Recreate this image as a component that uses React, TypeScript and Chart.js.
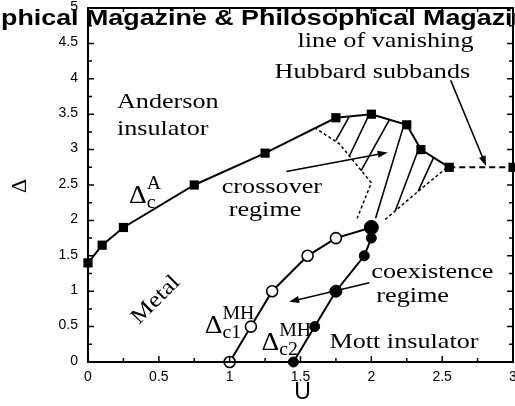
import React, { useEffect, useRef } from "react";
import { Chart, registerables } from "chart.js";

Chart.register(...registerables);

// ---------- axis ticks ----------
const xTickValues = [0, 0.5, 1, 1.5, 2, 2.5, 3];
const xTickLabels = ["0", "0.5", "1", "1.5", "2", "2.5", "3"];
const xMinorTicks = [0.25, 0.75, 1.25, 1.75, 2.25, 2.75];
const yTickValues = [0, 0.5, 1, 1.5, 2, 2.5, 3, 3.5, 4, 4.5, 5];
const yTickLabels = ["0", "0.5", "1", "1.5", "2", "2.5", "3", "3.5", "4", "4.5", "5"];
const yMinorTicks = [0.25, 0.75, 1.25, 1.75, 2.25, 2.75, 3.25, 3.75, 4.25, 4.75];

// ---------- series ----------
// Anderson transition line (filled squares)
const andersonU = [0, 0.1, 0.25, 0.75, 1.25, 1.75, 2.0, 2.25, 2.35, 2.55];
const andersonD = [1.4, 1.65, 1.9, 2.5, 2.95, 3.45, 3.5, 3.35, 3.0, 2.75];
// line of vanishing Hubbard subbands (dashed)
const hubbardU = [2.55, 3.0];
const hubbardD = [2.75, 2.75];
// Delta_c1^MH (open circles)
const mh1U = [1.0, 1.15, 1.3, 1.55, 1.75, 2.0];
const mh1D = [0, 0.5, 1.0, 1.5, 1.75, 1.9];
// Delta_c2^MH (filled circles)
const mh2U = [1.45, 1.6, 1.75, 1.95, 2.0, 2.0];
const mh2D = [0, 0.5, 1.0, 1.5, 1.75, 1.9];
// crossover region boundaries (dotted)
const crossLeftU = [1.6, 1.775, 2.0, 1.9];
const crossLeftD = [3.31, 3.08, 2.53, 2.03];
const crossRightU = [2.53, 2.33, 2.09];
const crossRightD = [2.74, 2.41, 2.0];
// hatch lines (start -> end)
const hatchStartU = [1.75, 1.845, 1.927, 2.03, 2.17, 2.33];
const hatchStartD = [3.13, 2.91, 2.7, 2.03, 2.14, 2.41];
const hatchEndU = [1.845, 1.986, 2.127, 2.232, 2.338, 2.44];
const hatchEndD = [3.47, 3.5, 3.42, 3.36, 3.03, 2.89];
// arrows (from -> to)
const arrowFromU = [2.56, 1.4, 1.986];
const arrowFromD = [3.98, 2.69, 1.12];
const arrowToU = [2.81, 2.115, 1.42];
const arrowToD = [2.77, 2.96, 0.85];

// ---------- annotation texts ----------
const labelTexts = [
  "line of vanishing",
  "Hubbard subbands",
  "Anderson",
  "insulator",
  "crossover",
  "regime",
  "coexistence",
  "regime",
  "Mott insulator",
];
const labelU = [1.479, 1.317, 0.204, 0.204, 0.944, 0.993, 2.0, 2.035, 1.704];
const labelD = [4.449, 4.011, 3.588, 3.206, 2.387, 2.062, 1.186, 0.847, 0.198];
const metalText = "Metal";
const metalU = 0.479;
const metalD = 0.876;
const deltaSubs = ["c", "c1", "c2"];
const deltaSups = ["A", "MH", "MH"];
const deltaU = [0.289, 0.824, 1.225];
const deltaD = [2.246, 0.41, 0.17];

const titleText = "Philosophical Magazine & Philosophical Magazine Letters";
const titleHidden = "Philoso";
const xAxisTitle = "U";
const yAxisTitle = "\u0394";

const SERIF = "'Liberation Serif', 'Times New Roman', serif";
const SANS = "'Liberation Sans', Arial, sans-serif";

function pts(us: number[], ds: number[]) {
  return us.map((u, i) => ({ x: u, y: ds[i] }));
}

function drawText(
  ctx: CanvasRenderingContext2D,
  text: string,
  x: number,
  y: number,
  font: string,
  align: CanvasTextAlign,
  baseline: CanvasTextBaseline,
  sx = 1,
  rot = 0
) {
  ctx.save();
  ctx.translate(x, y);
  if (rot) ctx.rotate(rot);
  ctx.scale(sx, 1);
  ctx.font = font;
  ctx.textAlign = align;
  ctx.textBaseline = baseline;
  ctx.fillStyle = "#000";
  ctx.fillText(text, 0, 0);
  ctx.restore();
}

const decorPlugin = {
  id: "decor",
  afterDatasetsDraw(chart: any) {
    const ctx: CanvasRenderingContext2D = chart.ctx;
    const a = chart.chartArea;
    const xs = chart.scales.x;
    const ys = chart.scales.y;
    ctx.save();
    // frame
    ctx.strokeStyle = "#000";
    ctx.lineWidth = 2;
    ctx.strokeRect(a.left, a.top, a.right - a.left, a.bottom - a.top);
    // inward ticks
    ctx.lineWidth = 1.5;
    const tick = (vals: number[], len: number) => {
      vals.forEach((v) => {
        const px = xs.getPixelForValue(v);
        ctx.beginPath();
        ctx.moveTo(px, a.bottom);
        ctx.lineTo(px, a.bottom - len);
        ctx.moveTo(px, a.top);
        ctx.lineTo(px, a.top + len);
        ctx.stroke();
      });
    };
    const ytick = (vals: number[], len: number) => {
      vals.forEach((v) => {
        const py = ys.getPixelForValue(v);
        ctx.beginPath();
        ctx.moveTo(a.left, py);
        ctx.lineTo(a.left + len, py);
        ctx.moveTo(a.right, py);
        ctx.lineTo(a.right - len, py);
        ctx.stroke();
      });
    };
    tick(xTickValues, 6);
    tick(xMinorTicks, 4);
    ytick(yTickValues, 6);
    ytick(yMinorTicks, 4);

    // tick labels
    xTickValues.forEach((v, i) => {
      drawText(ctx, xTickLabels[i], xs.getPixelForValue(v), a.bottom + 15, `14px ${SANS}`, "center", "middle");
    });
    yTickValues.forEach((v, i) => {
      drawText(ctx, yTickLabels[i], a.left - 10, ys.getPixelForValue(v) - 1, `14px ${SANS}`, "right", "middle");
    });

    // arrows
    ctx.lineWidth = 1.6;
    ctx.fillStyle = "#000";
    arrowFromU.forEach((u, i) => {
      const x0 = xs.getPixelForValue(u);
      const y0 = ys.getPixelForValue(arrowFromD[i]);
      const x1 = xs.getPixelForValue(arrowToU[i]);
      const y1 = ys.getPixelForValue(arrowToD[i]);
      const ang = Math.atan2(y1 - y0, x1 - x0);
      const hl = 10;
      const hw = 3.5;
      ctx.beginPath();
      ctx.moveTo(x0, y0);
      ctx.lineTo(x1 - Math.cos(ang) * hl * 0.8, y1 - Math.sin(ang) * hl * 0.8);
      ctx.stroke();
      ctx.beginPath();
      ctx.moveTo(x1, y1);
      ctx.lineTo(x1 - Math.cos(ang) * hl + Math.sin(ang) * hw, y1 - Math.sin(ang) * hl - Math.cos(ang) * hw);
      ctx.lineTo(x1 - Math.cos(ang) * hl - Math.sin(ang) * hw, y1 - Math.sin(ang) * hl + Math.cos(ang) * hw);
      ctx.closePath();
      ctx.fill();
    });

    // annotations
    labelTexts.forEach((t, i) => {
      drawText(ctx, t, xs.getPixelForValue(labelU[i]), ys.getPixelForValue(labelD[i]), `22px ${SERIF}`, "left", "alphabetic", 1.19);
    });
    drawText(ctx, metalText, xs.getPixelForValue(metalU), ys.getPixelForValue(metalD), `22px ${SERIF}`, "center", "middle", 1.15, -Math.PI / 4);

    deltaSubs.forEach((sub, i) => {
      const x = xs.getPixelForValue(deltaU[i]);
      const y = ys.getPixelForValue(deltaD[i]);
      ctx.font = `25px ${SERIF}`;
      const w = ctx.measureText("\u0394").width * 1.1;
      drawText(ctx, "\u0394", x, y, `25px ${SERIF}`, "left", "alphabetic", 1.1);
      drawText(ctx, deltaSups[i], x + w, y - 14, `18px ${SERIF}`, "left", "alphabetic", 1.1);
      drawText(ctx, sub, x + w, y + 5, `18px ${SERIF}`, "left", "alphabetic", 1.1);
    });

    // axis titles
    drawText(ctx, xAxisTitle, (a.left + a.right) / 2 + 2, a.bottom + 37, `23px ${SANS}`, "center", "alphabetic");
    drawText(ctx, yAxisTitle, 20, (a.top + a.bottom) / 2 + 1, `22px ${SERIF}`, "center", "middle", 1, -Math.PI / 2);
    ctx.restore();
  },
  afterDraw(chart: any) {
    const ctx: CanvasRenderingContext2D = chart.ctx;
    ctx.save();
    const font = `bold 22px ${SANS}`;
    const sx = 1.22;
    ctx.font = font;
    const hidden = ctx.measureText(titleHidden).width * sx;
    drawText(ctx, titleText, 1 - hidden, 25, font, "left", "alphabetic", sx);
    ctx.restore();
  },
};

export default function App() {
  const ref = useRef<HTMLCanvasElement | null>(null);

  useEffect(() => {
    document.body.style.margin = "0";
    const canvas = ref.current;
    if (!canvas) return;

    const line = (data: any[], extra: any) => ({
      data,
      showLine: true,
      borderColor: "#000",
      borderWidth: 2,
      pointRadius: 0,
      clip: false,
      ...extra,
    });

    const hatchSets = hatchStartU.map((u, i) =>
      line(
        [
          { x: u, y: hatchStartD[i] },
          { x: hatchEndU[i], y: hatchEndD[i] },
        ],
        { borderWidth: 1.6 }
      )
    );

    const chart = new Chart(canvas, {
      type: "scatter",
      data: {
        datasets: [
          line(pts(mh2U, mh2D), {
            pointRadius: [5, 5, 6, 5, 5, 7],
            pointStyle: "circle",
            pointBackgroundColor: "#000",
            pointBorderColor: "#000",
            pointBorderWidth: 1,
          }),
          line(pts(mh1U, mh1D), {
            pointRadius: [5.5, 5.5, 5.5, 5.5, 5.5, 0],
            pointStyle: "circle",
            pointBackgroundColor: "#fff",
            pointBorderColor: "#000",
            pointBorderWidth: 1.6,
          }),
          line(pts(andersonU, andersonD), {
            pointRadius: 6.5,
            pointStyle: "rect",
            pointBackgroundColor: "#000",
            pointBorderColor: "#000",
            pointBorderWidth: 0,
          }),
          line(pts(hubbardU, hubbardD), {
            borderDash: [6, 4],
            pointRadius: [0, 6.5],
            pointStyle: "rect",
            pointBackgroundColor: "#000",
            pointBorderColor: "#000",
            pointBorderWidth: 0,
          }),
          line(pts(crossLeftU, crossLeftD), { borderWidth: 1.5, borderDash: [3, 2.5] }),
          line(pts(crossRightU, crossRightD), { borderWidth: 1.5, borderDash: [3, 2.5] }),
          ...hatchSets,
        ],
      },
      options: {
        animation: false,
        responsive: false,
        maintainAspectRatio: false,
        layout: { autoPadding: false, padding: { top: 8, right: 2, left: 0, bottom: 0 } },
        plugins: {
          legend: { display: false },
          tooltip: { enabled: false },
          title: { display: false },
        },
        scales: {
          x: {
            type: "linear",
            min: 0,
            max: 3,
            grid: { display: false },
            border: { display: false },
            ticks: { display: false },
            afterFit: (s: any) => {
              s.height = 44;
            },
          },
          y: {
            type: "linear",
            min: 0,
            max: 5,
            grid: { display: false },
            border: { display: false },
            ticks: { display: false },
            afterFit: (s: any) => {
              s.width = 88;
            },
          },
        },
      } as any,
      plugins: [decorPlugin],
    });

    return () => chart.destroy();
  }, []);

  return <canvas ref={ref} width={515} height={406} style={{ display: "block" }} />;
}
